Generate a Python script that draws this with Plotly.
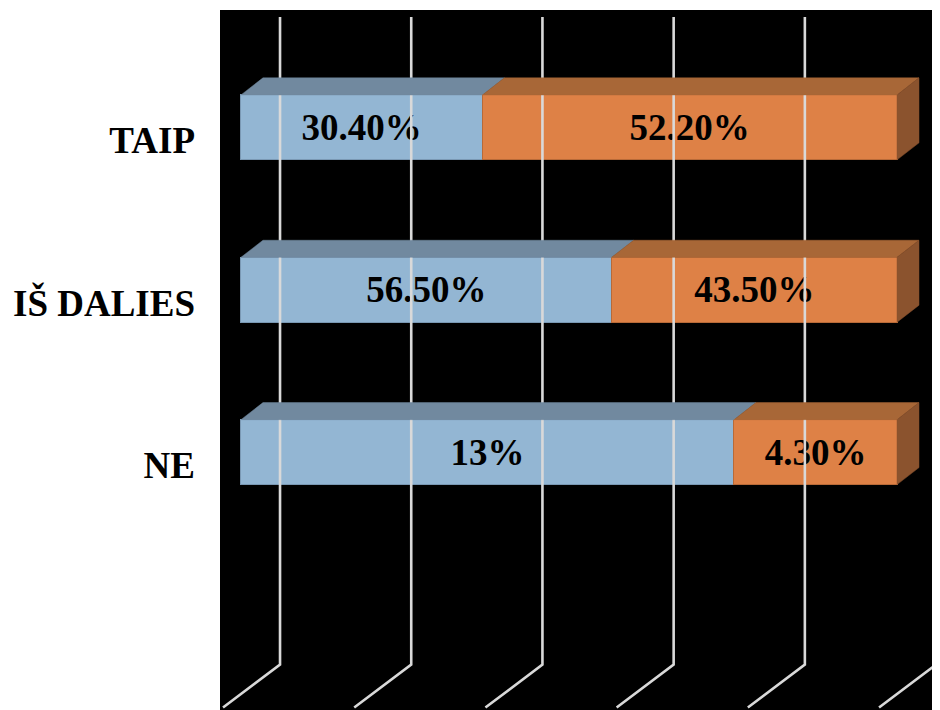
import plotly.graph_objects as go

# ---- data ----
categories = ["NE", "IŠ DALIES", "TAIP"]          # bottom -> top
blue_values = [13.0, 56.5, 30.4]
orange_values = [4.3, 43.5, 52.2]
blue_labels = ["13%", "56.50%", "30.40%"]
orange_labels = ["4.30%", "43.50%", "52.20%"]
grid_ticks = [0, 20, 40, 60, 80, 100]

# ---- style / geometry (pseudo 3D) ----
BLUE_FRONT, BLUE_TOP = "#93B6D3", "#71899F"
ORANGE_FRONT, ORANGE_TOP, ORANGE_SIDE = "#DE8146", "#A86737", "#8B532E"
BAR_W = 0.4
DX, DY = 3.35, 0.105          # bar depth offset (data units)
GRID_DX = 5.95                 # back wall offset
FLOOR_DX, FLOOR_DY = -8.69, -0.265
GRID_TOP, GRID_BOT = 2.68, -1.308

blue_pct = [b / (b + o) * 100 for b, o in zip(blue_values, orange_values)]
orange_pct = [100 - p for p in blue_pct]
ypos = list(range(len(categories)))

fig = go.Figure()

# gridlines (back wall + floor)
for t in grid_ticks:
    xb = t + GRID_DX
    fig.add_trace(go.Scatter(
        x=[xb, xb, xb + FLOOR_DX], y=[GRID_TOP, GRID_BOT, GRID_BOT + FLOOR_DY],
        mode="lines", line=dict(color="#D9D9D9", width=2.6),
        hoverinfo="skip", showlegend=False))

# top and side faces
for y, bp, op in zip(ypos, blue_pct, orange_pct):
    yt = y + BAR_W / 2
    yb = y - BAR_W / 2
    segs = [(0, bp, BLUE_TOP), (bp, bp + op, ORANGE_TOP)]
    for x0, x1, col in segs:
        fig.add_trace(go.Scatter(
            x=[x0, x1, x1 + DX, x0 + DX, x0],
            y=[yt, yt, yt + DY, yt + DY, yt],
            fill="toself", fillcolor=col, mode="lines",
            line=dict(color=col, width=0.5),
            hoverinfo="skip", showlegend=False))
    xe = bp + op
    fig.add_trace(go.Scatter(
        x=[xe, xe + DX, xe + DX, xe, xe],
        y=[yb, yb + DY, yt + DY, yt, yb],
        fill="toself", fillcolor=ORANGE_SIDE, mode="lines",
        line=dict(color=ORANGE_SIDE, width=0.5),
        hoverinfo="skip", showlegend=False))

# front faces
font_lbl = dict(family="Liberation Serif", size=37, color="black", weight="bold")
fig.add_trace(go.Bar(
    y=ypos, x=blue_pct, orientation="h", width=BAR_W,
    marker=dict(color=BLUE_FRONT, line=dict(color="#7A98B3", width=1)),
    text=blue_labels, textposition="inside", insidetextanchor="middle",
    textfont=font_lbl, showlegend=False))
fig.add_trace(go.Bar(
    y=ypos, x=orange_pct, orientation="h", width=BAR_W,
    marker=dict(color=ORANGE_FRONT, line=dict(color="#B86A38", width=1)),
    text=orange_labels, textposition="inside", insidetextanchor="middle",
    textfont=font_lbl, showlegend=False))

fig.update_layout(
    barmode="stack",
    width=932, height=702,
    margin=dict(l=212, r=0, t=2, b=0),
    paper_bgcolor="white", plot_bgcolor="black",
)
fig.update_xaxes(range=[-3.20, 106.55], showgrid=False, zeroline=False,
                 showticklabels=False, fixedrange=True)
fig.update_yaxes(range=[-1.588, 2.723], showgrid=False, zeroline=False,
                 tickvals=[y - 0.08 for y in ypos], ticktext=categories,
                 tickfont=dict(family="Liberation Serif", size=37, color="black", weight="bold"),
                 ticks="", ticklabelstandoff=24, fixedrange=True)

fig.write_html("out.html")
